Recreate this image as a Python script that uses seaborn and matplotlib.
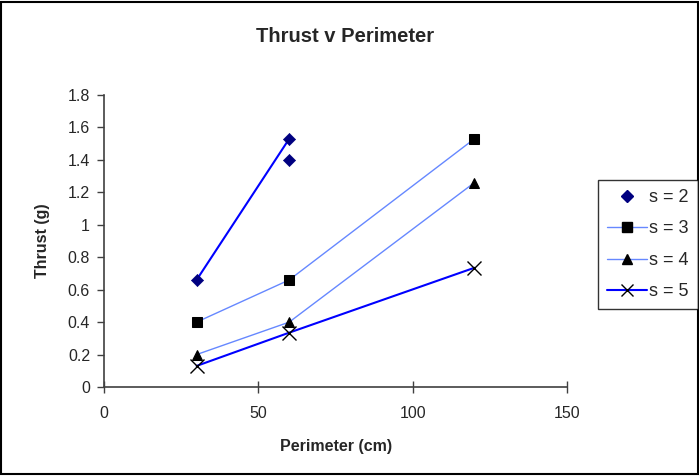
import matplotlib
matplotlib.use("Agg")
import matplotlib.pyplot as plt
import seaborn as sns
import pandas as pd
from matplotlib.patches import Rectangle
from matplotlib.lines import Line2D

sns.set_style("white")
plt.rcParams['font.family'] = ['Liberation Sans', 'DejaVu Sans']

# Data
s2_x = [30, 60, 60]
s2_y = [0.66, 1.53, 1.40]
s2_line_x = [30, 60]
s2_line_y = [0.66, 1.53]
s3_x = [30, 60, 120]
s3_y = [0.40, 0.66, 1.53]
s4_x = [30, 60, 120]
s4_y = [0.20, 0.40, 1.26]
s5_x = [30, 60, 120]
s5_y = [0.13, 0.335, 0.735]
x_ticks = [0, 50, 100, 150]
y_ticks = [0, 0.2, 0.4, 0.6, 0.8, 1.0, 1.2, 1.4, 1.6, 1.8]
y_tick_labels = ["0", "0.2", "0.4", "0.6", "0.8", "1", "1.2", "1.4", "1.6", "1.8"]
legend_labels = ["s = 2", "s = 3", "s = 4", "s = 5"]

fig = plt.figure(figsize=(6.99, 4.76), dpi=100)
ax = fig.add_axes([104/699, 1-387/476, (567-104)/699, (387-95)/476])

light = "#6688FF"
blue = "#0000FF"
navy = "#000080"

sns.lineplot(x=s2_line_x, y=s2_line_y, ax=ax, color=blue, linewidth=1.5, estimator=None, sort=False, legend=False)
sns.lineplot(x=s3_x, y=s3_y, ax=ax, color=light, linewidth=1.0, estimator=None, marker="s",
             markersize=7.5, markerfacecolor="black", markeredgecolor="black", legend=False)
sns.lineplot(x=s4_x, y=s4_y, ax=ax, color=light, linewidth=1.0, estimator=None, marker="^",
             markersize=7.5, markerfacecolor="black", markeredgecolor="black", legend=False)
sns.lineplot(x=s5_x, y=s5_y, ax=ax, color=blue, linewidth=1.5, estimator=None, marker="x",
             markersize=10, markeredgecolor="black", markeredgewidth=1.0, legend=False)
sns.scatterplot(x=s2_x, y=s2_y, ax=ax, color=navy, marker="D", s=38, edgecolor=navy, legend=False, zorder=5)

ax.set_xlim(0, 150)
ax.set_ylim(0, 1.8)
ax.set_xticks(x_ticks)
ax.set_xticklabels([str(t) for t in x_ticks], fontsize=11.5)
ax.set_yticks(y_ticks)
ax.set_yticklabels(y_tick_labels, fontsize=11.5)
for sp in ["top", "right"]:
    ax.spines[sp].set_visible(False)
for sp in ["left", "bottom"]:
    ax.spines[sp].set_color("#404040")
    ax.spines[sp].set_linewidth(1.2)
ax.tick_params(axis="y", direction="out", length=5, width=1, color="#404040", pad=5, left=True)
ax.tick_params(axis="x", direction="inout", length=9, width=1, color="#404040", pad=9, bottom=True)

fig.text(0.494, 1-37/476, "Thrust v Perimeter", ha="center", va="center", fontsize=14.5, fontweight="bold")
fig.text(336/699, 1-446/476, "Perimeter (cm)", ha="center", va="center", fontsize=11.5, fontweight="bold")
fig.text(43/699, 1-241/476, "Thrust (g)", ha="center", va="center", fontsize=11.5, fontweight="bold", rotation=90)

handles = [
    Line2D([], [], linestyle="none", marker="D", color=navy, markersize=6),
    Line2D([], [], color=light, linewidth=1.0, marker="s", markersize=7, markerfacecolor="black", markeredgecolor="black"),
    Line2D([], [], color=light, linewidth=1.0, marker="^", markersize=7, markerfacecolor="black", markeredgecolor="black"),
    Line2D([], [], color=blue, linewidth=1.5, marker="x", markersize=9, markeredgecolor="black"),
]
leg = fig.legend(handles, legend_labels, loc="upper left",
                 bbox_to_anchor=(598/699, 1-180/476), fontsize=13, frameon=True, fancybox=False,
                 edgecolor="black", handlelength=2.2, handletextpad=0.15, labelspacing=0.8,
                 borderpad=0.5, borderaxespad=0)
leg.get_frame().set_linewidth(1.0)

fig.patches.append(Rectangle((0.002, 0.004), 0.996, 0.992, transform=fig.transFigure,
                             fill=False, edgecolor="black", linewidth=1.5))

fig.savefig("out.png", dpi=100)
